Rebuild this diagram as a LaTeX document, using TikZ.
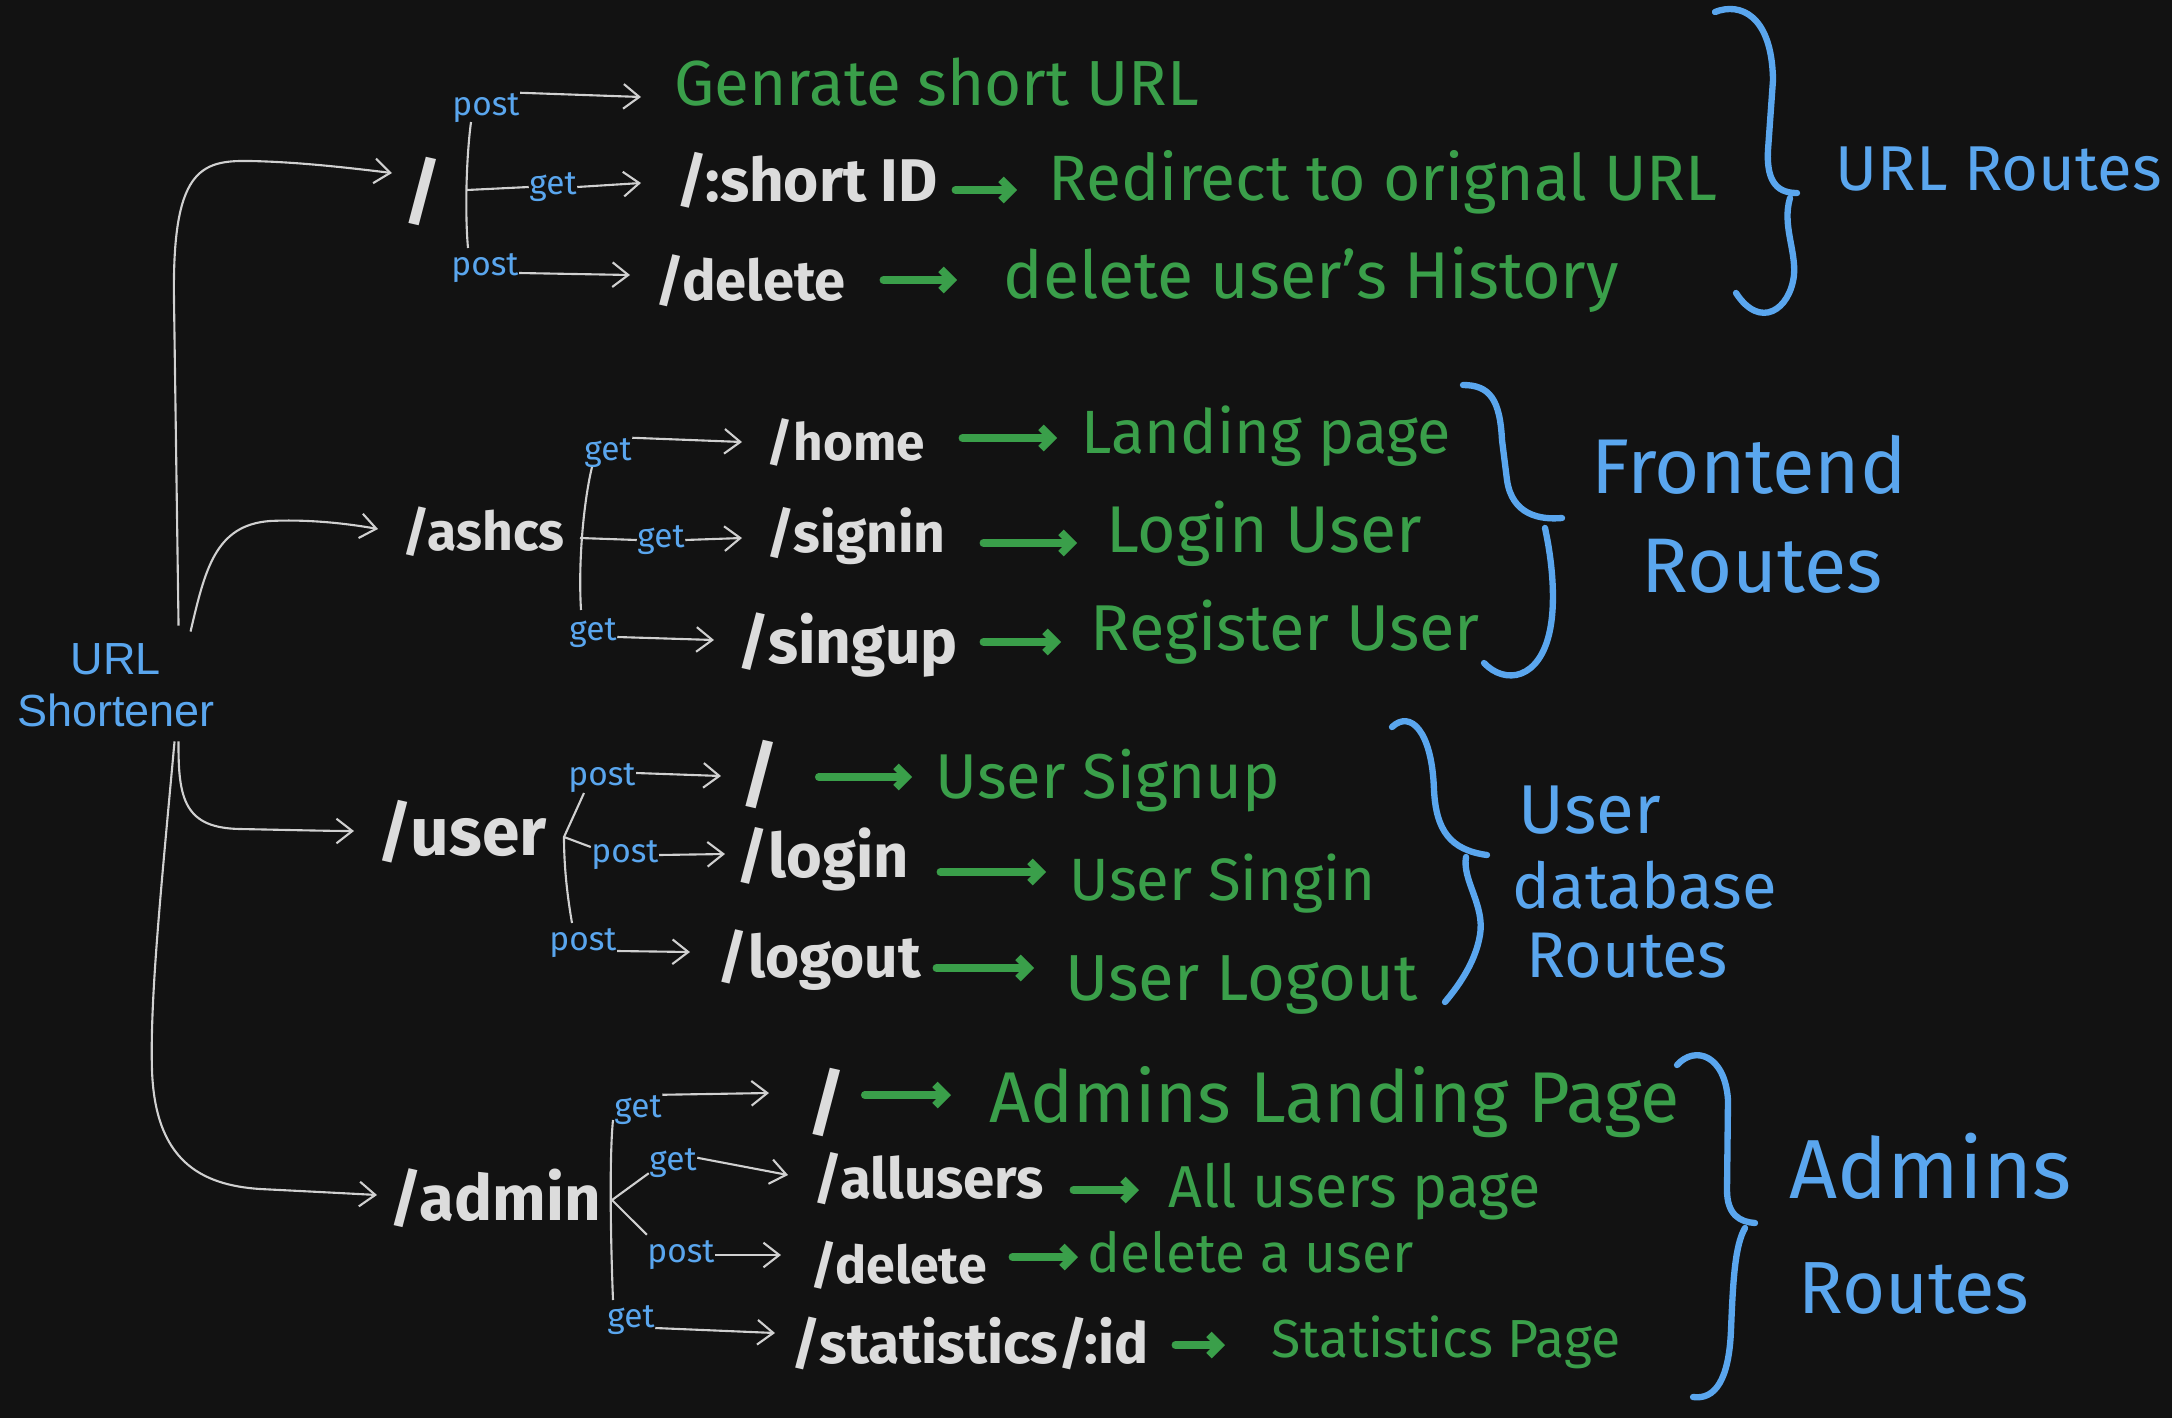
\documentclass[tikz,border=0pt]{standalone}
\usepackage{fontspec}
\setmainfont{Fira Sans}
\newfontfamily\rootfont{Liberation Sans}
\usetikzlibrary{arrows.meta,calc}
\newdimen\pxu \pxu=0.01cm
\newcommand\hw[2]{\resizebox{#1\pxu}{!}{#2}}
\definecolor{bgc}{HTML}{121212}
\definecolor{wc}{HTML}{DCDCDC}
\definecolor{wl}{HTML}{D0D0D0}
\definecolor{gc}{HTML}{3A9F4A}
\definecolor{bc}{HTML}{5AA6EE}
\begin{document}
\begin{tikzpicture}[x=0.01cm,y=-0.01cm,
 wt/.style={text=wc,inner sep=0,anchor=base west,font=\bfseries},
 gt/.style={text=gc,inner sep=0,anchor=base west},
 bt/.style={text=bc,inner sep=0,anchor=base west},
 lab/.style={text=bc,inner sep=0,font=\fontsize{9.5}{10}\selectfont},
 slash/.style={text=wc,inner sep=0,anchor=base west,font=\fontsize{21}{24}\selectfont\bfseries},
 wline/.style={draw=wl,line width=0.6pt},
 warr/.style={wline,-{Straight Barb[length=4.5pt,width=7pt]}},
 garr/.style={draw=gc,line width=2.2pt,line cap=round,-{Straight Barb[length=3pt,width=6pt]}},
 brace/.style={draw=bc,line width=1.8pt,line cap=round,line join=round},
]
\path[use as bounding box,fill=bgc] (0,0) rectangle (2172,1418);

% root
\node[text=bc,inner sep=0,align=center,font=\rootfont\fontsize{12.8}{14.8}\selectfont] (root) at (116,685) {URL\\Shortener};

% group 1
\node[slash] (s1) at (403,217) {/};
\node[gt] (g1) at (674,105) {\hw{524}{Genrate short URL}};
\node[wt] (p1) at (676,202) {\hw{261}{/:short ID}};
\node[gt] (r1) at (1048,200) {\hw{669}{Redirect to orignal URL}};
\node[wt] (p2) at (655,300) {\hw{190}{/delete}};
\node[gt] (r2) at (1003,298) {\hw{615}{delete user's History}};
\node[bt] (l1) at (1835,190) {\hw{326}{URL Routes}};
\node[lab] (lp1) at (486,108) {post};
\node[lab] (lg1) at (553,187) {get};
\node[lab] (lp3) at (485,268) {post};

% group 2
\node[wt] (ash) at (402,550) {\hw{162}{/ashcs}};
\node[wt] (home) at (766,460) {\hw{158}{/home}};
\node[gt] (land) at (1081,453) {\hw{369}{Landing page}};
\node[wt] (sgi) at (766,552) {\hw{179}{/signin}};
\node[gt] (login) at (1106,552) {\hw{315}{Login User}};
\node[wt] (sgu) at (737,663) {\hw{220}{/singup}};
\node[gt] (reg) at (1090,650) {\hw{389}{Register User}};
\node[bt] (fr1) at (1591,493) {\hw{315}{Frontend}};
\node[bt] (fr2) at (1641,592) {\hw{241}{Routes}};
\node[lab] (lf1) at (608,453) {get};
\node[lab] (lf2) at (661,540) {get};
\node[lab] (lf3) at (593,633) {get};

% group 3
\node[wt] (usr) at (377,855) {\hw{169}{/user}};
\node[slash] (u1) at (740,800) {/};
\node[gt] (usu) at (935,798) {\hw{344}{User Signup}};
\node[wt] (ulog) at (736,877) {\hw{172}{/login}};
\node[gt] (usi) at (1069,900) {\hw{306}{User Singin}};
\node[wt] (uout) at (717,977) {\hw{203}{/logout}};
\node[gt] (ulo) at (1065,1000) {\hw{352}{User Logout}};
\node[bt] (ud1) at (1518,833) {\hw{142}{User}};
\node[bt] (ud2) at (1512,908) {\hw{264}{database}};
\node[bt] (ud3) at (1526,977) {\hw{201}{Routes}};
\node[lab] (lu1) at (602,778) {post};
\node[lab] (lu2) at (625,855) {post};
\node[lab] (lu3) at (583,943) {post};

% group 4
\node[wt] (adm) at (389,1220) {\hw{211}{/admin}};
\node[slash] (a1) at (807,1128) {/};
\node[gt] (aland) at (989,1122) {\hw{690}{Admins Landing Page}};
\node[wt] (aall) at (813,1198) {\hw{230}{/allusers}};
\node[gt] (aup) at (1168,1207) {\hw{372}{All users page}};
\node[wt] (adel) at (810,1283) {\hw{176}{/delete}};
\node[gt] (adu) at (1087,1272) {\hw{326}{delete a user}};
\node[wt] (ast) at (791,1363) {\hw{357}{/statistics/:id}};
\node[gt] (asp) at (1271,1357) {\hw{349}{Statistics Page}};
\node[bt] (ar1) at (1789,1198) {\hw{282}{Admins}};
\node[bt] (ar2) at (1798,1313) {\hw{230}{Routes}};
\node[lab] (la1) at (638,1110) {get};
\node[lab] (la2) at (673,1163) {get};
\node[lab] (la3) at (681,1255) {post};
\node[lab] (la4) at (631,1320) {get};

% main connectors from root
\draw[warr] ($(root.north east)+(-37,-17)$) -- (174,300) .. controls (172,170) and (200,160) .. (250,161) .. controls (300,162) and (350,168) .. ($(s1.base west)+(-11,-44)$);
\draw[warr] ($(root.north east)+(-25,-11)$) .. controls (205,570) and (215,525) .. (270,521) .. controls (310,519) and (350,524) .. ($(ash.base west)+(-24,-21)$);
\draw[warr] ($(root.south east)+(-37,14)$) .. controls (178,800) and (185,828) .. (240,829) .. controls (290,830) and (330,831) .. ($(usr.base west)+(-23,-24)$);
\draw[warr] ($(root.south east)+(-41,14)$) .. controls (160,900) and (150,1000) .. (152,1070) .. controls (155,1160) and (200,1185) .. (260,1189) .. controls (300,1191) and (340,1193) .. ($(adm.base west)+(-12,-25)$);

% forks
\coordinate (f1a) at (471,122); \coordinate (f1b) at (468,248); \coordinate (f1m) at (467,190);
\draw[wline] (f1a) .. controls (466,160) and (465,215) .. (f1b);
\draw[wline] (f1m) -- (lg1.west);
\coordinate (f2a) at (592,467); \coordinate (f2b) at (581,610); \coordinate (f2m) at (580,538);
\draw[wline] (f2a) .. controls (584,500) and (578,560) .. (f2b);
\draw[wline] (f2m) -- (lf2.west);
\coordinate (f3a) at (584,793); \coordinate (f3m) at (564,837); \coordinate (f3b) at (572,923);
\draw[wline] (f3a) -- (f3m) .. controls (564,870) and (568,900) .. (f3b);
\draw[wline] (f3m) -- ($(lu2.west)+(0,-8)$);
\coordinate (f4a) at (613,1120); \coordinate (f4b) at (613,1300); \coordinate (f4m) at (612,1200);
\draw[wline] (f4a) .. controls (609,1160) and (611,1250) .. (f4b);
\draw[wline] (f4m) -- ($(la2.south west)+(0,-5)$);
\draw[wline] (f4m) -- ($(la3.north west)+(0,-5)$);

% white arrows
\draw[warr] (lp1.north east) -- ($(g1.base west)+(-33,-8)$);
\draw[warr] (lg1.east) -- ($(p1.base west)+(-35,-19)$);
\draw[warr] ($(lp3.east)+(0,5)$) -- ($(p2.base west)+(-25,-25)$);
\draw[warr] (lf1.north east) -- ($(home.base west)+(-24,-18)$);
\draw[warr] (lf2.east) -- ($(sgi.base west)+(-24,-14)$);
\draw[warr] ($(lf3.east)+(0,4)$) -- ($(sgu.base west)+(-23,-23)$);
\draw[warr] ($(lu1.east)+(0,-5)$) -- ($(u1.base west)+(-19,-24)$);
\draw[warr] (lu2.east) -- ($(ulog.base west)+(-11,-23)$);
\draw[warr] ($(lu3.east)+(0,8)$) -- ($(uout.base west)+(-27,-25)$);
\draw[warr] (la1.north east) -- ($(a1.base west)+(-38,-35)$);
\draw[warr] ($(la2.north east)+(0,10)$) -- ($(aall.base west)+(-25,-23)$);
\draw[warr] (la3.east) -- ($(adel.base west)+(-29,-28)$);
\draw[warr] ($(la4.east)+(0,8)$) -- ($(ast.base west)+(-16,-30)$);

% green arrows
\draw[garr] ($(p1.base east)+(17,-12)$) -- ($(r1.base west)+(-31,-10)$);
\draw[garr] ($(p2.base east)+(37,-20)$) -- ($(r2.base west)+(-46,-18)$);
\draw[garr] ($(home.base east)+(37,-22)$) -- ($(land.base west)+(-24,-15)$);
\draw[garr] ($(sgi.base east)+(37,-9)$) -- ($(login.base west)+(-29,-9)$);
\draw[garr] ($(sgu.base east)+(25,-21)$) -- ($(reg.base west)+(-29,-8)$);
\draw[garr] ($(u1.base east)+(39,-23)$) -- ($(usu.base west)+(-23,-21)$);
\draw[garr] ($(ulog.base east)+(31,-5)$) -- ($(usi.base west)+(-23,-28)$);
\draw[garr] ($(uout.base east)+(15,-9)$) -- ($(ulo.base west)+(-31,-32)$);
\draw[garr] ($(a1.base east)+(18,-33)$) -- ($(aland.base west)+(-38,-27)$);
\draw[garr] ($(aall.base east)+(29,-8)$) -- ($(aup.base west)+(-29,-17)$);
\draw[garr] ($(adel.base east)+(25,-26)$) -- ($(adu.base west)+(-9,-15)$);
\draw[garr] ($(ast.base east)+(26,-18)$) -- ($(asp.base west)+(-46,-12)$);

% braces
\draw[brace] (1715,12) .. controls (1740,2) and (1772,15) .. (1773,80) -- (1768,150) .. controls (1766,185) and (1780,193) .. (1797,193);
\draw[brace] (1790,198) .. controls (1782,225) and (1796,250) .. (1794,275) .. controls (1790,310) and (1760,330) .. (1736,293);
\draw[brace] (1463,385) .. controls (1490,385) and (1500,400) .. (1502,440) -- (1507,480) .. controls (1512,515) and (1540,520) .. (1562,518);
\draw[brace] (1545,528) .. controls (1552,560) and (1556,600) .. (1550,630) .. controls (1540,680) and (1505,685) .. (1484,663);
\draw[brace] (1392,727) .. controls (1410,710) and (1432,730) .. (1434,790) .. controls (1436,830) and (1450,850) .. (1487,855);
\draw[brace] (1466,857) .. controls (1462,880) and (1485,905) .. (1480,935) .. controls (1475,965) and (1455,990) .. (1445,1002);
\draw[brace] (1677,1065) .. controls (1695,1045) and (1725,1055) .. (1728,1100) -- (1727,1190) .. controls (1727,1215) and (1740,1222) .. (1755,1223);
\draw[brace] (1745,1228) .. controls (1735,1245) and (1733,1280) .. (1731,1330) .. controls (1729,1380) and (1715,1400) .. (1693,1397);
\end{tikzpicture}
\end{document}
